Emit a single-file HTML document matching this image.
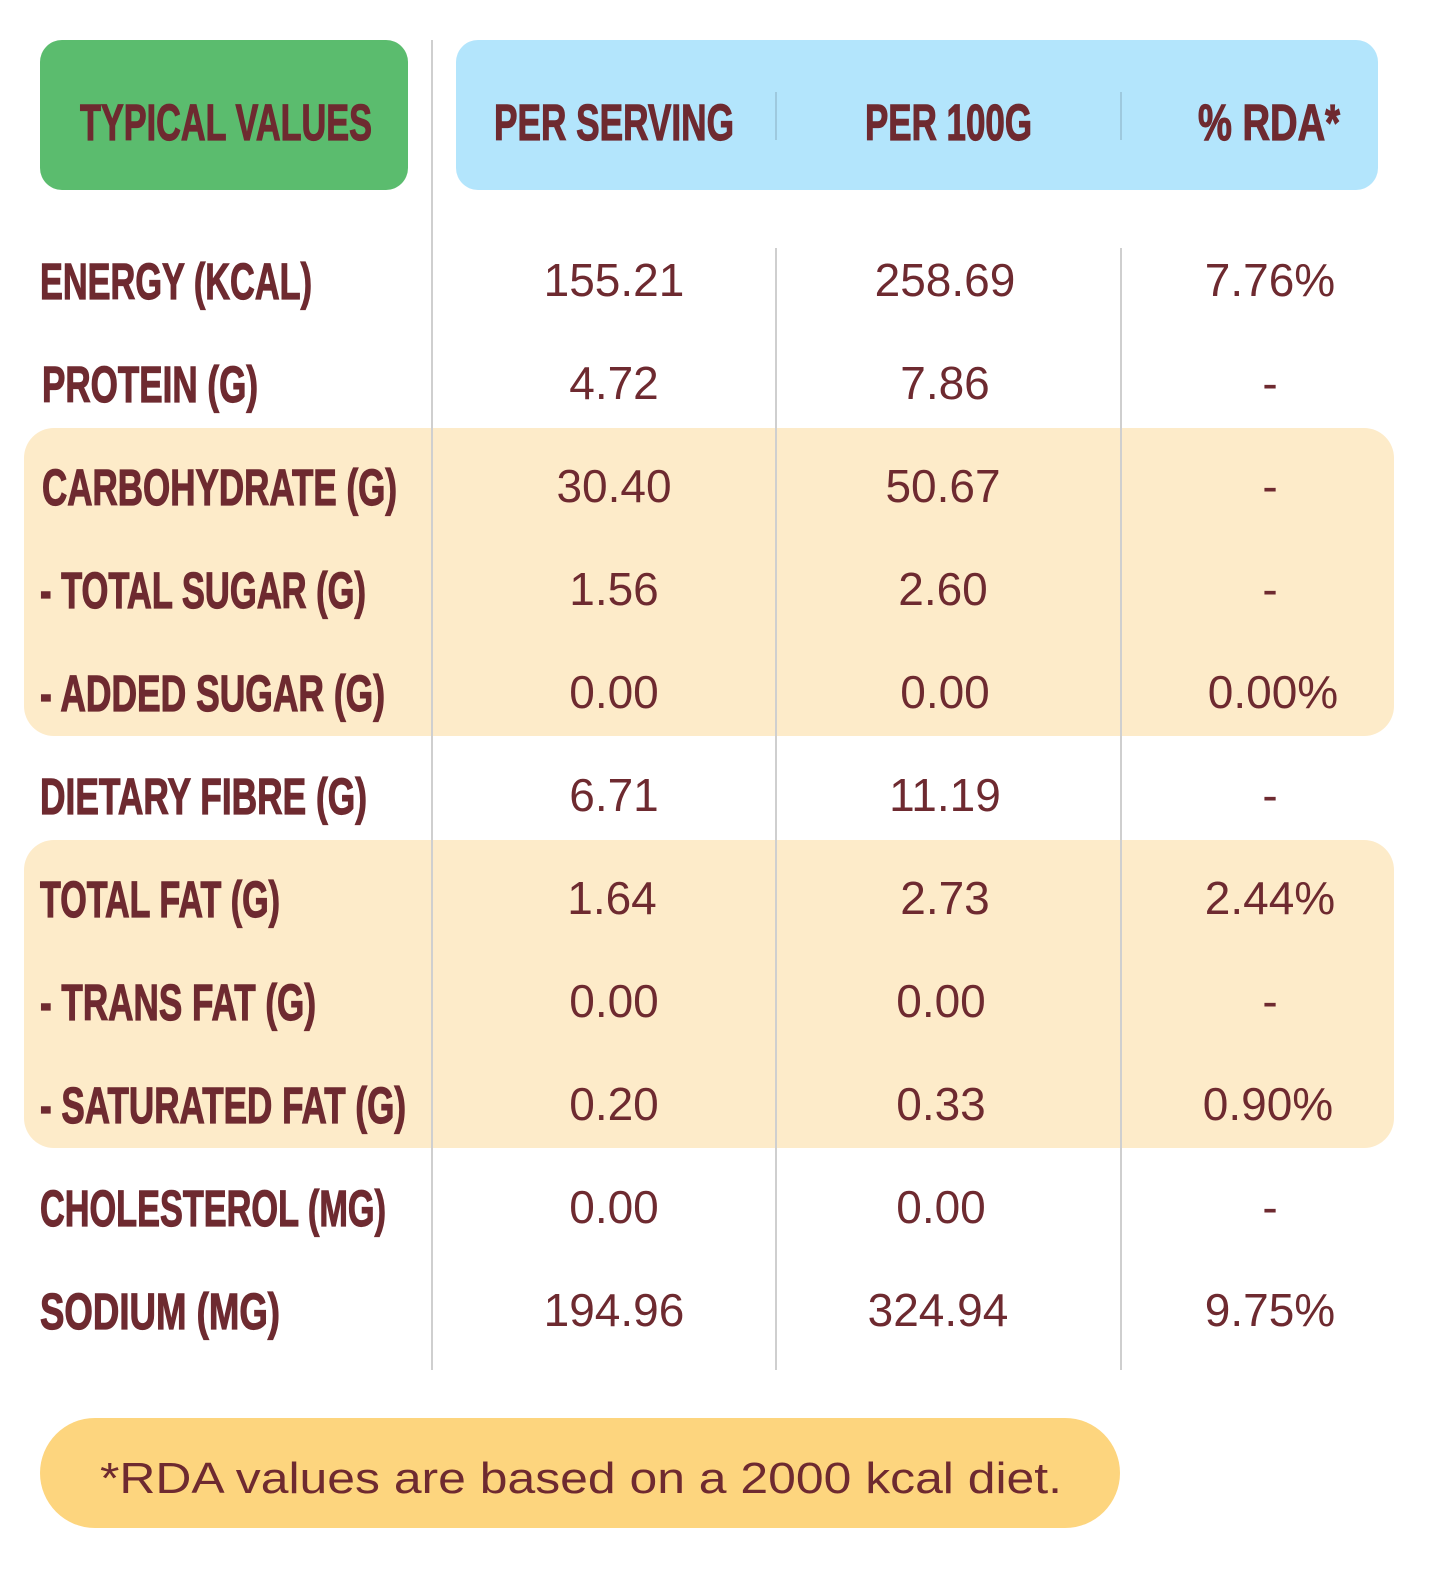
<!DOCTYPE html>
<html><head><meta charset="utf-8"><style>html,body{margin:0;padding:0;background:#fff;overflow:hidden;width:1432px;height:1584px}svg{display:block}</style></head><body>
<svg width="1432" height="1584" viewBox="0 0 1432 1584" xmlns="http://www.w3.org/2000/svg">
<rect x="24" y="428" width="1370" height="308" rx="30" fill="#fdebc9"/>
<rect x="24" y="840" width="1370" height="308" rx="30" fill="#fdebc9"/>
<rect x="40" y="40" width="368" height="150" rx="22" fill="#5bbc6e"/>
<rect x="456" y="40" width="922" height="150" rx="22" fill="#b3e5fc"/>
<rect x="40" y="1418" width="1080" height="110" rx="55" fill="#fdd57e"/>
<g stroke="#cfcfcf" stroke-width="2">
<line x1="432" y1="40" x2="432" y2="1370"/>
<line x1="776" y1="248" x2="776" y2="1370"/>
<line x1="1121" y1="248" x2="1121" y2="1370"/>
<line x1="776" y1="92" x2="776" y2="140" stroke="#9ec9de"/>
<line x1="1121" y1="92" x2="1121" y2="140" stroke="#9ec9de"/>
</g>
<g font-family="Liberation Sans, sans-serif" font-weight="bold" font-size="51" fill="#6e2a30" stroke="#6e2a30" stroke-width="1.2">
<text x="80" y="140" textLength="292" lengthAdjust="spacingAndGlyphs">TYPICAL VALUES</text>
<text x="494" y="140" textLength="240" lengthAdjust="spacingAndGlyphs">PER SERVING</text>
<text x="865" y="140" textLength="167" lengthAdjust="spacingAndGlyphs">PER 100G</text>
<text x="1198" y="140" textLength="142" lengthAdjust="spacingAndGlyphs">% RDA*</text>
<text x="40" y="299" textLength="272" lengthAdjust="spacingAndGlyphs">ENERGY (KCAL)</text>
<text x="42" y="402" textLength="216" lengthAdjust="spacingAndGlyphs">PROTEIN (G)</text>
<text x="42" y="505" textLength="355" lengthAdjust="spacingAndGlyphs">CARBOHYDRATE (G)</text>
<text x="40" y="608" textLength="326" lengthAdjust="spacingAndGlyphs">- TOTAL SUGAR (G)</text>
<text x="40" y="711" textLength="345" lengthAdjust="spacingAndGlyphs">- ADDED SUGAR (G)</text>
<text x="40" y="814" textLength="327" lengthAdjust="spacingAndGlyphs">DIETARY FIBRE (G)</text>
<text x="40" y="917" textLength="240" lengthAdjust="spacingAndGlyphs">TOTAL FAT (G)</text>
<text x="40" y="1020" textLength="276" lengthAdjust="spacingAndGlyphs">- TRANS FAT (G)</text>
<text x="40" y="1123" textLength="366" lengthAdjust="spacingAndGlyphs">- SATURATED FAT (G)</text>
<text x="40" y="1226" textLength="346" lengthAdjust="spacingAndGlyphs">CHOLESTEROL (MG)</text>
<text x="40" y="1329" textLength="240" lengthAdjust="spacingAndGlyphs">SODIUM (MG)</text>
</g>
<g font-family="Liberation Sans, sans-serif" font-size="46" fill="#6e2a30" text-anchor="middle">
<text x="614" y="296">155.21</text><text x="945" y="296">258.69</text><text x="1270" y="296">7.76%</text>
<text x="614" y="399">4.72</text><text x="945" y="399">7.86</text><text x="1270" y="399">-</text>
<text x="614" y="502">30.40</text><text x="943" y="502">50.67</text><text x="1270" y="502">-</text>
<text x="614" y="605">1.56</text><text x="943" y="605">2.60</text><text x="1270" y="605">-</text>
<text x="614" y="708">0.00</text><text x="945" y="708">0.00</text><text x="1273" y="708">0.00%</text>
<text x="614" y="811">6.71</text><text x="945" y="811">11.19</text><text x="1270" y="811">-</text>
<text x="612" y="914">1.64</text><text x="945" y="914">2.73</text><text x="1270" y="914">2.44%</text>
<text x="614" y="1017">0.00</text><text x="941" y="1017">0.00</text><text x="1270" y="1017">-</text>
<text x="614" y="1120">0.20</text><text x="941" y="1120">0.33</text><text x="1268" y="1120">0.90%</text>
<text x="614" y="1223">0.00</text><text x="941" y="1223">0.00</text><text x="1270" y="1223">-</text>
<text x="614" y="1326">194.96</text><text x="938" y="1326">324.94</text><text x="1270" y="1326">9.75%</text>
</g>
<text x="100" y="1493" font-family="Liberation Sans, sans-serif" font-size="44" fill="#6e2a30" textLength="962" lengthAdjust="spacingAndGlyphs">*RDA values are based on a 2000 kcal diet.</text>
</svg>
</body></html>
